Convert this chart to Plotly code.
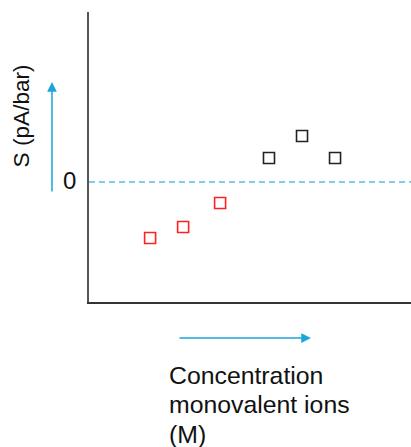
import plotly.graph_objects as go

# Data (arbitrary units)
red_x = [1.85, 2.85, 3.97]
red_y = [-2.8, -2.25, -1.05]
black_x = [5.45, 6.45, 7.45]
black_y = [1.2, 2.3, 1.2]
y_tick_vals = [0]
y_tick_text = ["0"]
x_title_lines = ["Concentration", "monovalent ions", "(M)"]

FONT = "Liberation Sans, Arial, sans-serif"
BLUE = "#1BA6DA"

fig = go.Figure()
fig.add_trace(go.Scatter(x=red_x, y=red_y, mode="markers",
                         marker=dict(symbol="square-open", size=11, color="#FF2020",
                                     line=dict(width=1.6)), showlegend=False))
fig.add_trace(go.Scatter(x=black_x, y=black_y, mode="markers",
                         marker=dict(symbol="square-open", size=11, color="#222222",
                                     line=dict(width=1.6)), showlegend=False))

# zero dashed line
fig.add_shape(type="line", xref="paper", x0=0, x1=1, yref="y", y0=0, y1=0,
              line=dict(color="#55C0E6", width=1.4, dash="6px,4px"))

# y tick labels as annotations (larger than default)
for v, t in zip(y_tick_vals, y_tick_text):
    fig.add_annotation(text=t, xref="paper", yref="y", x=-(89 - 78) / 322, y=v,
                       xanchor="right", yanchor="middle", showarrow=False, yshift=2,
                       font=dict(family=FONT, size=24, color="#111"))

# y title
fig.add_annotation(text="S (pA/bar)", xref="paper", yref="paper", x=-0.21, y=(302 - 116) / 290,
                   xanchor="center", yanchor="middle", textangle=-90, showarrow=False,
                   font=dict(family=FONT, size=22.6, color="#111"))
# vertical arrow
fig.add_annotation(xref="paper", yref="paper", x=-0.115, y=(302 - 82) / 290,
                   ax=0, ay=111, axref="pixel", ayref="pixel", text="", showarrow=True,
                   arrowhead=2, arrowsize=1.3, arrowwidth=1.5, arrowcolor=BLUE)
# horizontal arrow
fig.add_annotation(xref="paper", yref="paper", x=(311 - 89) / 322, y=-(338 - 302) / 290,
                   ax=-133, ay=0, text="", showarrow=True,
                   arrowhead=2, arrowsize=1.3, arrowwidth=1.5, arrowcolor=BLUE)
# x title (three lines, 30 px apart)
for i, line in enumerate(x_title_lines):
    fig.add_annotation(text=line, xref="paper", yref="paper",
                       x=(167 - 89) / 322, y=-(375 + 29.5 * i - 302) / 290,
                       xanchor="left", yanchor="middle", align="left", showarrow=False,
                       font=dict(family=FONT, size=24.8, color="#111"))

fig.update_layout(
    width=411, height=447,
    margin=dict(l=89, r=0, t=12, b=145),
    paper_bgcolor="white", plot_bgcolor="white",
    font=dict(family=FONT, size=21, color="#111"),
    xaxis=dict(range=[0, 9.75], showgrid=False, zeroline=False, showticklabels=False,
               ticks="", showline=True, linecolor="#333", linewidth=1.5),
    yaxis=dict(range=[-6, 8.5], showgrid=False, zeroline=False,
               showticklabels=False, ticks="",
               showline=True, linecolor="#555", linewidth=2),
)
fig.write_html("out.html")
